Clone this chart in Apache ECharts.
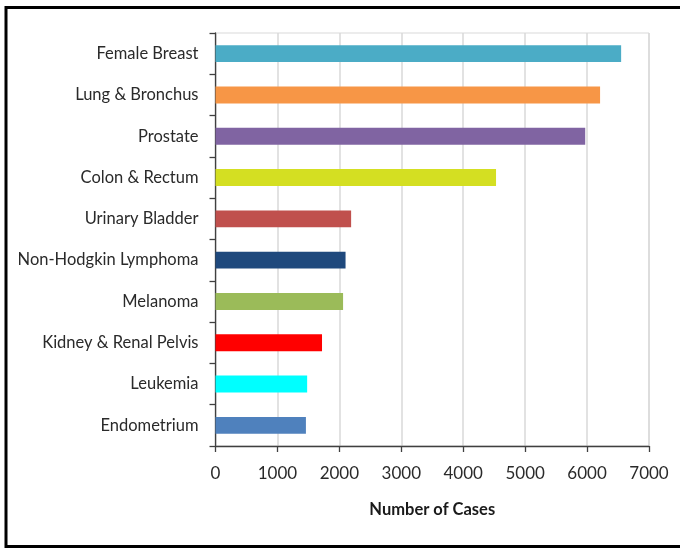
<!DOCTYPE html>
<html>
<head>
<meta charset="utf-8">
<script src="https://cdn.jsdelivr.net/npm/echarts@6/dist/echarts.min.js"></script>
<style>
html,body{margin:0;padding:0;background:#fff;}
#c{width:680px;height:548px;}
</style>
</head>
<body>
<div id="c"></div>
<script>
const categories = ["Female Breast","Lung & Bronchus","Prostate","Colon & Rectum","Urinary Bladder","Non-Hodgkin Lymphoma","Melanoma","Kidney & Renal Pelvis","Leukemia","Endometrium"];
const cases = [6550, 6210, 5970, 4530, 2190, 2100, 2060, 1720, 1480, 1460];
const barColors = ["#4bacc6","#f79646","#8064a2","#d4df22","#c0504d","#1f497d","#9bbb59","#ff0000","#00ffff","#4f81bd"];
const xTicks = [0,1000,2000,3000,4000,5000,6000,7000];
const xTitle = "Number of Cases";

const FONT = 'Lato,"Open Sans",sans-serif';
const chart = echarts.init(document.getElementById('c'), null, {renderer:'canvas'});
chart.setOption({
  animation:false,
  backgroundColor:'#fff',
  graphic:[
    {type:'rect', shape:{x:6, y:7.5, width:690, height:539}, style:{fill:'none', stroke:'#000', lineWidth:3}, silent:true}
  ],
  grid:{left:215.5, right:31, top:33, bottom:102, show:true, borderColor:'#d9d9d9', borderWidth:1, containLabel:false},
  xAxis:{
    type:'value', min:xTicks[0], max:xTicks[xTicks.length-1], interval:1000,
    axisLine:{show:true, lineStyle:{color:'#404040', width:1.3}},
    axisTick:{show:true, length:6, lineStyle:{color:'#404040', width:1.3}},
    axisLabel:{color:'#2a2a2a', fontFamily:FONT, fontSize:17, margin:19, formatter:(v)=>String(v)},
    splitLine:{show:true, lineStyle:{color:'#d9d9d9', width:1.5}},
    name:xTitle, nameLocation:'middle', nameGap:55,
    nameTextStyle:{color:'#1a1a1a', fontFamily:FONT, fontSize:16.5, fontWeight:'bold'}
  },
  yAxis:{
    type:'category', data:categories, inverse:true,
    axisLine:{show:true, lineStyle:{color:'#404040', width:1.3}},
    axisTick:{show:true, length:6, alignWithLabel:false, lineStyle:{color:'#404040', width:1.3}},
    axisLabel:{color:'#2a2a2a', fontFamily:FONT, fontSize:16.5, margin:17},
    splitLine:{show:false}
  },
  series:[{
    type:'bar', barWidth:'41%',
    data:cases.map((v,i)=>({value:v, itemStyle:{color:barColors[i]}}))
  }]
});
</script>
</body>
</html>
